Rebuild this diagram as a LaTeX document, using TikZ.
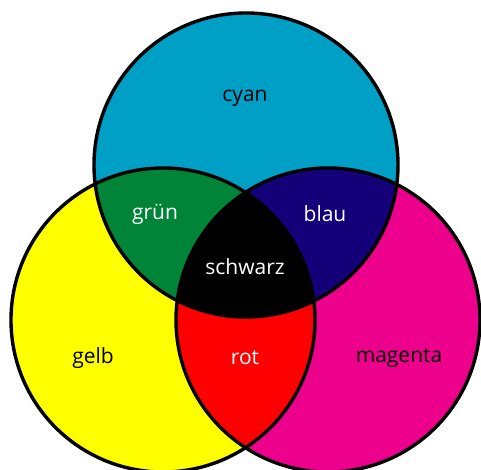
\documentclass[tikz,border=0pt]{standalone}
\usepackage{fontspec}
\setmainfont{Open Sans}
\definecolor{cCyan}{RGB}{0,160,198}
\definecolor{cYellow}{RGB}{255,255,0}
\definecolor{cMagenta}{RGB}{236,0,140}
\definecolor{cGreen}{RGB}{0,132,56}
\definecolor{cBlue}{RGB}{20,0,120}
\definecolor{cRed}{RGB}{255,0,0}
\begin{document}
\begin{tikzpicture}[x=1pt,y=-1pt,
  ring/.style={draw=black,line width=3.4pt},
  lbl/.style={font=\fontsize{21}{24}\selectfont,inner sep=0pt},
  lbldark/.style={lbl,text=black},
  lbllight/.style={lbl,text=white}]
  \useasboundingbox (0,0) rectangle (481,470);
  \begin{scope}
    \clip (0,0) rectangle (481,470);
    % centres and radius of the three circles
    \coordinate (C) at (246,165);
    \coordinate (Y) at (163,320);
    \coordinate (M) at (328,320);
    \def\rad{152}
    % primary areas
    \fill[cCyan] (C) circle (\rad);
    \fill[cYellow] (Y) circle (\rad);
    \fill[cMagenta] (M) circle (\rad);
    % pairwise overlaps
    \begin{scope}
      \clip (C) circle (\rad);
      \fill[cGreen] (Y) circle (\rad);
      \fill[cBlue] (M) circle (\rad);
    \end{scope}
    \begin{scope}
      \clip (Y) circle (\rad);
      \fill[cRed] (M) circle (\rad);
    \end{scope}
    % common area
    \begin{scope}
      \clip (C) circle (\rad);
      \clip (Y) circle (\rad);
      \fill[black] (M) circle (\rad);
    \end{scope}
    % outlines
    \draw[ring] (C) circle (\rad);
    \draw[ring] (Y) circle (\rad);
    \draw[ring] (M) circle (\rad);
  \end{scope}
  % labels
  \node[lbldark] (cyan) at (245,98) {cyan};
  \node[lbllight] (gruen) at (155,214) {grün};
  \node[lbllight] (blau) at (325,214) {blau};
  \node[lbllight] (schwarz) at (245,267) {schwarz};
  \node[lbldark] (gelb) at (93,358) {gelb};
  \node[lbllight] (rot) at (245,358) {rot};
  \node[lbldark] (magenta) at (399,358) {magenta};
\end{tikzpicture}
\end{document}
